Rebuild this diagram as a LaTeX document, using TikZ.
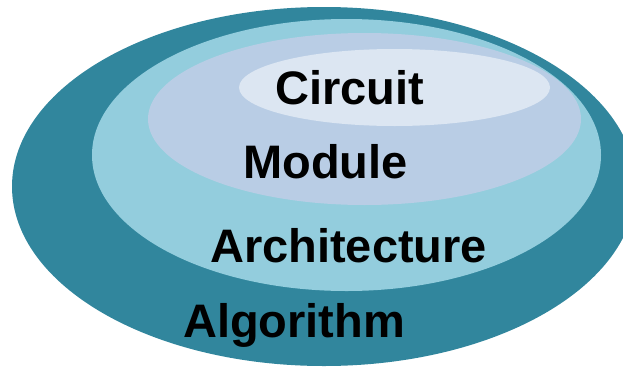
\documentclass[tikz,border=0pt]{standalone}
\usepackage{fontspec}
\setmainfont{Liberation Sans}
\definecolor{algocol}{HTML}{31869D}
\definecolor{archcol}{HTML}{93CDDD}
\definecolor{modcol}{HTML}{B9CDE5}
\definecolor{circcol}{HTML}{DCE6F2}
\tikzset{
  levellabel/.style={anchor=base west, inner sep=0pt, text=black,
    font=\fontsize{47}{56}\selectfont\bfseries}
}
\begin{document}
\begin{tikzpicture}[x=1pt, y=-1pt]
  \useasboundingbox (0,0) rectangle (623,367);
  % nested design levels, outermost first
  \fill[algocol] (324,186.5) ellipse [x radius=312, y radius=179.5];
  \fill[archcol] (346.5,155) ellipse [x radius=254.5, y radius=136];
  \fill[modcol]  (364.5,119) ellipse [x radius=216.5, y radius=86];
  \fill[circcol] (394.5,87.5) ellipse [x radius=155.5, y radius=38.5];
  % level names
  \node[levellabel] (circuit) at (275,104) {Circuit};
  \node[levellabel] (module)  at (243,178) {Module};
  \node[levellabel] (arch)    at (210,262) {Architecture};
  \node[levellabel] (algo)    at (183,337) {Algorithm};
\end{tikzpicture}
\end{document}
